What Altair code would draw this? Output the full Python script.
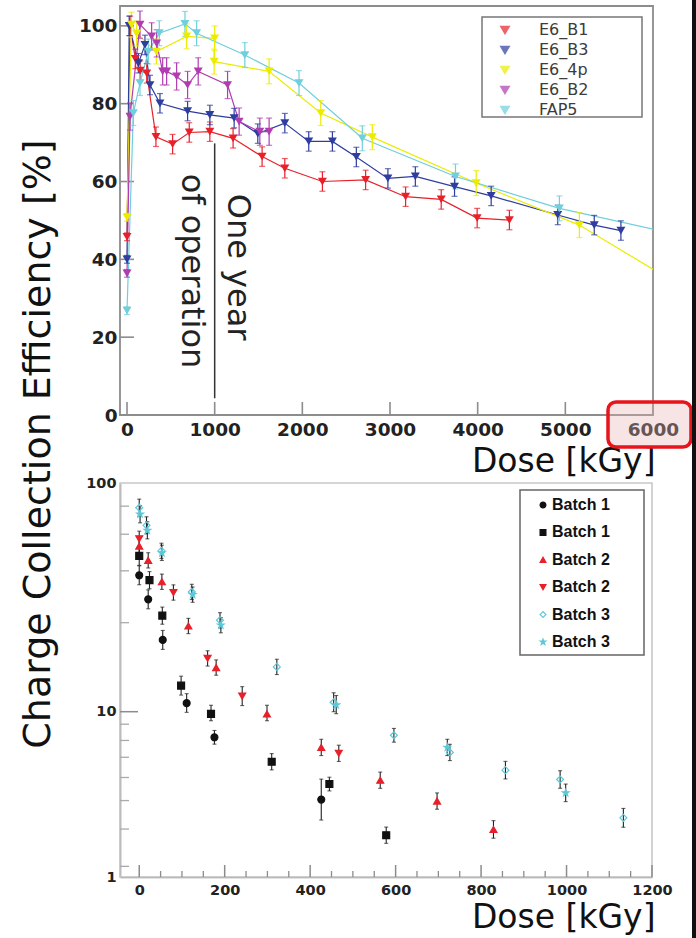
import altair as alt
import pandas as pd

# ---------------- text ----------------
Y_TITLE = "Charge Collection Efficiency [%]"
X_TITLE = "Dose [kGy]"
ANN_TEXT = ["One year", "of operation"]
ANN_DOSE = [1266, 741]
ANN_CCE = [38.0, 37.0]
VLINE_DOSE = [1000]
VLINE_LO = [4.3]
VLINE_HI = [69.8]

# ---------------- top panel data ----------------
TOP_SERIES = ["E6_B1", "E6_B3", "E6_4p", "E6_B2", "FAP5"]
TOP_COLORS = ["#e8202a", "#2e3d9e", "#ecec00", "#b03cb0", "#6fcfdc"]
TOP_ERR = [2.5, 2.5, 3.2, 3.5, 3.2]

dose_b1 = [0, 35, 95, 150, 225, 330, 520, 710, 945, 1210, 1541, 1800, 2229, 2722, 3178, 3584, 3994, 4362]
cce_b1 = [45.8, 100.0, 91.5, 88.5, 87.8, 71.5, 69.6, 72.6, 72.8, 71.1, 66.4, 63.4, 60.0, 60.4, 56.1, 55.4, 50.6, 50.1]

dose_b3 = [0, 25, 130, 205, 262, 376, 691, 945, 1222, 1492, 1800, 2073, 2343, 2616, 2976, 3289, 3736, 4154, 4913, 5330, 5634]
cce_b3 = [40.0, 100.0, 90.4, 95.1, 84.8, 80.1, 78.1, 77.1, 76.3, 72.3, 75.0, 70.3, 70.3, 66.3, 60.8, 61.3, 58.7, 56.3, 51.4, 48.8, 47.4]

dose_4p = [0, 50, 110, 335, 680, 1000, 994, 1621, 2210, 2798, 3983, 5160, 6300]
cce_4p = [50.8, 100.3, 98.0, 93.4, 97.3, 96.8, 90.8, 88.3, 77.6, 71.4, 59.6, 48.8, 33.4]

dose_b2 = [0, 34, 148, 281, 338, 407, 452, 566, 691, 812, 1147, 1279, 1515, 1621]
cce_b2 = [36.4, 76.7, 100.3, 97.3, 95.5, 88.3, 88.3, 87.0, 84.8, 88.3, 84.8, 75.4, 72.8, 72.8]

dose_fap = [0, 72, 148, 243, 368, 661, 794, 1344, 1962, 2684, 3747, 4932, 6300]
cce_fap = [26.8, 77.6, 85.3, 93.4, 98.1, 100.5, 98.1, 92.5, 85.3, 71.1, 61.3, 53.1, 46.3]

TOP_XTICKS = [0, 1000, 2000, 3000, 4000, 5000, 6000]
TOP_YTICKS = [0, 20, 40, 60, 80, 100]

# ---------------- bottom panel data ----------------
BOT_SERIES = ["Batch 1", "Batch 1 ", "Batch 2", "Batch 2 ", "Batch 3", "Batch 3 "]
STAR = "M0,-1L0.23,-0.32L0.95,-0.31L0.37,0.12L0.59,0.81L0,0.39L-0.59,0.81L-0.37,0.12L-0.95,-0.31L-0.23,-0.32Z"
BOT_SHAPES = ["circle", "square", "triangle-up", "triangle-down", "diamond", STAR]
BOT_FILLS = ["#111111", "#111111", "#e8202a", "#e8202a", "transparent", "#5cc8d8"]
BOT_STROKES = ["#111111", "#111111", "#e8202a", "#e8202a", "#5cc8d8", "#5cc8d8"]

b1c_dose = [0, 21, 55, 111, 176, 426]
b1c_cce = [39.5, 31.0, 20.6, 10.9, 7.0, 2.94]
b1c_err = [1.1, 1.1, 1.1, 1.1, 1.1, 1.33]

b1s_dose = [0, 24, 54, 98, 168, 310, 445, 578]
b1s_cce = [48.0, 37.6, 26.3, 13.0, 9.7, 4.98, 3.65, 1.79]
b1s_err = [1.1, 1.09, 1.09, 1.1, 1.1, 1.12, 1.1, 1.12]

b2u_dose = [0, 21, 53, 115, 180, 299, 426, 564, 697, 829]
b2u_cce = [53.0, 45.9, 37.0, 23.7, 15.6, 9.7, 6.08, 3.85, 2.88, 1.94]
b2u_err = [1.08, 1.08, 1.08, 1.08, 1.08, 1.1, 1.12, 1.12, 1.12, 1.13]

b2d_dose = [0, 80, 160, 241, 467]
b2d_cce = [57.0, 33.2, 17.1, 11.7, 5.6]
b2d_err = [1.08, 1.08, 1.08, 1.1, 1.12]

b3o_dose = [0, 17, 52, 123, 189, 322, 455, 596, 727, 857, 985, 1133]
b3o_cce = [78.0, 65.3, 50.5, 33.4, 25.1, 15.7, 11.0, 7.2, 5.67, 4.43, 3.89, 2.28]
b3o_err = [1.09, 1.09, 1.08, 1.08, 1.08, 1.08, 1.1, 1.1, 1.12, 1.13, 1.13, 1.14]

b3s_dose = [2, 19, 53, 125, 191, 461, 721, 998]
b3s_cce = [73.0, 62.1, 49.5, 32.5, 23.9, 10.7, 6.08, 3.23]
b3s_err = [1.09, 1.09, 1.08, 1.08, 1.08, 1.1, 1.12, 1.13]

BOT_XTICKS = [0, 200, 400, 600, 800, 1000, 1200]
BOT_XMINOR = [50, 100, 150, 250, 300, 350, 450, 500, 550, 650, 700, 750, 850, 900, 950, 1050, 1100, 1150]
BOT_YTICKS = [1, 10, 100]
BOT_YMAJOR = [10]
BOT_YMINOR = [1.16, 1.95, 2.9, 4.0, 5.3, 6.7, 8.4, 24.5, 41.3, 59.7, 79.2]

# ---------------- build tables ----------------
top_rows = []
top_groups = [(dose_b1, cce_b1), (dose_b3, cce_b3), (dose_4p, cce_4p), (dose_b2, cce_b2), (dose_fap, cce_fap)]
for name, (d, v), e in zip(TOP_SERIES, top_groups, TOP_ERR):
    for i, (x, y) in enumerate(zip(d, v)):
        ee = e if x > 0 else 1.0
        top_rows.append({"series": name, "dose": x, "cce": y, "lo": y - ee, "hi": y + ee, "order": i})
top_df = pd.DataFrame(top_rows)

bot_rows = []
bot_groups = [(b1c_dose, b1c_cce, b1c_err), (b1s_dose, b1s_cce, b1s_err), (b2u_dose, b2u_cce, b2u_err),
              (b2d_dose, b2d_cce, b2d_err), (b3o_dose, b3o_cce, b3o_err), (b3s_dose, b3s_cce, b3s_err)]
for name, (d, v, f) in zip(BOT_SERIES, bot_groups):
    for x, y, ff in zip(d, v, f):
        bot_rows.append({"series": name, "dose": x, "cce": y, "lo": y / ff, "hi": y * ff})
bot_df = pd.DataFrame(bot_rows)

one = pd.DataFrame({"t": [Y_TITLE]})
ann_df = pd.DataFrame({"t": ANN_TEXT, "dose": ANN_DOSE, "cce": ANN_CCE})
vline_df = pd.DataFrame({"dose": VLINE_DOSE, "lo": VLINE_LO, "hi": VLINE_HI})

# ---------------- geometry / style ----------------
W1, H1 = 533, 409
W2, H2 = 532, 394
FONT = "DejaVu Sans"
GRAY = "#8c8c8c"

xs_top = alt.Scale(domain=[-80, 6000], nice=False, zero=False)
ys_top = alt.Scale(domain=[0, 105.1], nice=False, zero=False)
col_top = alt.Scale(domain=TOP_SERIES, range=TOP_COLORS)

AX_TOP_X = alt.Axis(
    values=TOP_XTICKS, format="d", grid=False, ticks=False, tickSize=0, domain=False,
    labelFont=FONT, labelFontSize=18.5, labelFontWeight="bold", labelColor="#222",
    labelPadding=5, labelFlush=False,
    title=X_TITLE, titleFont=FONT, titleFontSize=33, titleFontWeight="normal", titleColor="#111",
    titleAlign="right", titleBaseline="alphabetic", titleX=535, titleY=56, titleAnchor="end")
AX_TOP_Y = alt.Axis(
    values=TOP_YTICKS, format="d", grid=False, ticks=False, tickSize=0, domain=False,
    labelFont=FONT, labelFontSize=18.5, labelFontWeight="bold", labelColor="#222",
    labelPadding=3, labelFlush=False, title=None)
LEG_T = alt.Legend(
    title=None, orient="none", legendX=375, legendY=14, symbolType="triangle-down",
    symbolSize=70, labelOffset=26, labelFont=FONT, labelFontSize=16,
    labelColor="#3c3c3c", padding=2, rowPadding=4)


def tx(field):
    return alt.X(field, scale=xs_top, axis=AX_TOP_X)


def ty(field):
    return alt.Y(field, scale=ys_top, axis=AX_TOP_Y)


TCOL = alt.Color("series:N", scale=col_top, legend=LEG_T)

# ---------------- top panel ----------------
canvas = alt.Chart(one).mark_rect(fill="white", opacity=0, strokeWidth=0).encode(
    x=alt.value(-120), x2=alt.value(576), y=alt.value(-6), y2=alt.value(932))
frame_top = alt.Chart(one).mark_rect(fill=None, stroke=GRAY, strokeWidth=1.8).encode(
    x=alt.value(0), x2=alt.value(W1), y=alt.value(0), y2=alt.value(H1))
xt_top = alt.Chart(pd.DataFrame({"dose": TOP_XTICKS})).mark_rule(color=GRAY, strokeWidth=1.6).encode(
    x=tx("dose:Q"), y=alt.value(H1), y2=alt.value(H1 - 13))
yt_top = alt.Chart(pd.DataFrame({"cce": TOP_YTICKS})).mark_rule(color=GRAY, strokeWidth=1.6).encode(
    y=ty("cce:Q"), x=alt.value(0), x2=alt.value(14))
vline = alt.Chart(vline_df).mark_rule(color="#333", strokeWidth=1.5).encode(
    x=tx("dose:Q"), y=ty("lo:Q"), y2="hi:Q")

lines = alt.Chart(top_df).mark_line(strokeWidth=1.2, clip=True).encode(
    x=tx("dose:Q"), y=ty("cce:Q"), color=TCOL, order="order:Q")
err_top = alt.Chart(top_df).mark_rule(strokeWidth=1.2, clip=True).encode(
    x=tx("dose:Q"), y=ty("lo:Q"), y2="hi:Q", color=TCOL)
cap_hi = alt.Chart(top_df).mark_tick(orient="horizontal", size=6, thickness=1.2, clip=True).encode(
    x=tx("dose:Q"), y=ty("hi:Q"), color=TCOL)
cap_lo = alt.Chart(top_df).mark_tick(orient="horizontal", size=6, thickness=1.2, clip=True).encode(
    x=tx("dose:Q"), y=ty("lo:Q"), color=TCOL)
pts_top = alt.Chart(top_df).mark_point(shape="triangle-down", filled=True, size=80, opacity=1, clip=True).encode(
    x=tx("dose:Q"), y=ty("cce:Q"), color=TCOL)
legbox_top = alt.Chart(one).mark_rect(fill="white", stroke="#777", strokeWidth=1.5).encode(
    x=alt.value(362), x2=alt.value(522), y=alt.value(11), y2=alt.value(111))
ann = alt.Chart(ann_df).mark_text(angle=90, font=FONT, fontSize=32, color="#222",
                                  align="center", baseline="middle").encode(
    x=tx("dose:Q"), y=ty("cce:Q"), text="t:N")
ytitle = alt.Chart(one).mark_text(angle=270, font=FONT, fontSize=38, color="#111",
                                  align="center", baseline="middle").encode(
    x=alt.value(-81), y=alt.value(438), text="t:N")
redbox = alt.Chart(one).mark_rect(cornerRadius=8, fill="#e7b4b4", fillOpacity=0.35,
                                  stroke="#e8141c", strokeWidth=3.5).encode(
    x=alt.value(488), x2=alt.value(571), y=alt.value(396), y2=alt.value(441))
strip = alt.Chart(one).mark_rect(fill="#111", strokeWidth=0).encode(
    x=alt.value(572), x2=alt.value(576), y=alt.value(-6), y2=alt.value(932))

top = alt.layer(canvas, frame_top, xt_top, yt_top, vline, lines, err_top, cap_hi, cap_lo, pts_top,
                legbox_top, ann, ytitle, redbox, strip).properties(width=W1, height=H1)

# ---------------- bottom panel ----------------
xs_bot = alt.Scale(domain=[-45, 1200], nice=False, zero=False)
ys_bot = alt.Scale(type="log", domain=[1, 10, 100], range=[H2, 228.7, 0], nice=False)
AX_BOT_X = alt.Axis(
    values=BOT_XTICKS, format="d", grid=False, ticks=False, tickSize=0,
    domain=True, domainColor=GRAY, domainWidth=1.6,
    labelFont=FONT, labelFontSize=14.5, labelFontWeight="bold", labelColor="#222",
    labelPadding=6, labelFlush=False,
    title=X_TITLE, titleFont=FONT, titleFontSize=33, titleFontWeight="normal", titleColor="#111",
    titleAlign="right", titleBaseline="alphabetic", titleX=535, titleY=50, titleAnchor="end")
AX_BOT_Y = alt.Axis(
    values=BOT_YTICKS, format="d", grid=False, ticks=False, tickSize=0,
    domain=True, domainColor=GRAY, domainWidth=1.6,
    labelFont=FONT, labelFontSize=14.5, labelFontWeight="bold", labelColor="#222",
    labelPadding=4, labelFlush=False, title=None)
LEG_B = alt.Legend(
    title=None, orient="none", legendX=400, legendY=484, symbolSize=34, symbolOffset=8,
    labelOffset=1, labelFont="Liberation Sans", labelFontWeight="bold", labelFontSize=16,
    labelColor="#111", padding=7, rowPadding=11.4, symbolStrokeWidth=1.2)


def bx(field):
    return alt.X(field, scale=xs_bot, axis=AX_BOT_X)


def by(field):
    return alt.Y(field, scale=ys_bot, axis=AX_BOT_Y)


frame_bot = alt.Chart(one).mark_rect(fill=None, stroke="#c8c8c8", strokeWidth=1.6).encode(
    x=alt.value(0), x2=alt.value(W2), y=alt.value(0), y2=alt.value(H2))
xt_bot = alt.Chart(pd.DataFrame({"dose": BOT_XTICKS})).mark_rule(color=GRAY, strokeWidth=1.5).encode(
    x=bx("dose:Q"), y=alt.value(H2), y2=alt.value(H2 - 12))
xm_bot = alt.Chart(pd.DataFrame({"dose": BOT_XMINOR})).mark_rule(color=GRAY, strokeWidth=1.3).encode(
    x=bx("dose:Q"), y=alt.value(H2), y2=alt.value(H2 - 6))
yt_bot = alt.Chart(pd.DataFrame({"cce": BOT_YMAJOR})).mark_rule(color=GRAY, strokeWidth=1.5).encode(
    y=by("cce:Q"), x=alt.value(0), x2=alt.value(18))
ym_bot = alt.Chart(pd.DataFrame({"cce": BOT_YMINOR})).mark_rule(color="#aaa", strokeWidth=1.3).encode(
    y=by("cce:Q"), x=alt.value(0), x2=alt.value(9))
err_bot = alt.Chart(bot_df).mark_rule(color="#222", strokeWidth=1.1).encode(
    x=bx("dose:Q"), y=by("lo:Q"), y2="hi:Q")
caph_bot = alt.Chart(bot_df).mark_tick(orient="horizontal", size=4, thickness=1.1, color="#222").encode(
    x=bx("dose:Q"), y=by("hi:Q"))
capl_bot = alt.Chart(bot_df).mark_tick(orient="horizontal", size=4, thickness=1.1, color="#222").encode(
    x=bx("dose:Q"), y=by("lo:Q"))
pts_bot = alt.Chart(bot_df).mark_point(size=48, opacity=1, strokeWidth=1.2).encode(
    x=bx("dose:Q"), y=by("cce:Q"),
    shape=alt.Shape("series:N", scale=alt.Scale(domain=BOT_SERIES, range=BOT_SHAPES), legend=LEG_B),
    fill=alt.Fill("series:N", scale=alt.Scale(domain=BOT_SERIES, range=BOT_FILLS), legend=LEG_B),
    stroke=alt.Stroke("series:N", scale=alt.Scale(domain=BOT_SERIES, range=BOT_STROKES), legend=LEG_B),
)
legbox_bot = alt.Chart(one).mark_rect(fill="white", stroke="#666", strokeWidth=1.5).encode(
    x=alt.value(400), x2=alt.value(524), y=alt.value(7), y2=alt.value(172))

bottom = alt.layer(frame_bot, xt_bot, xm_bot, yt_bot, ym_bot, err_bot, caph_bot, capl_bot, pts_bot,
                   legbox_bot).properties(width=W2, height=H2)

chart = alt.vconcat(top, bottom, spacing=68, bounds="flush").configure_view(stroke=None).properties(
    padding=0, background="white")

chart.save("out.html", embed_options={"renderer": "svg", "actions": False})
